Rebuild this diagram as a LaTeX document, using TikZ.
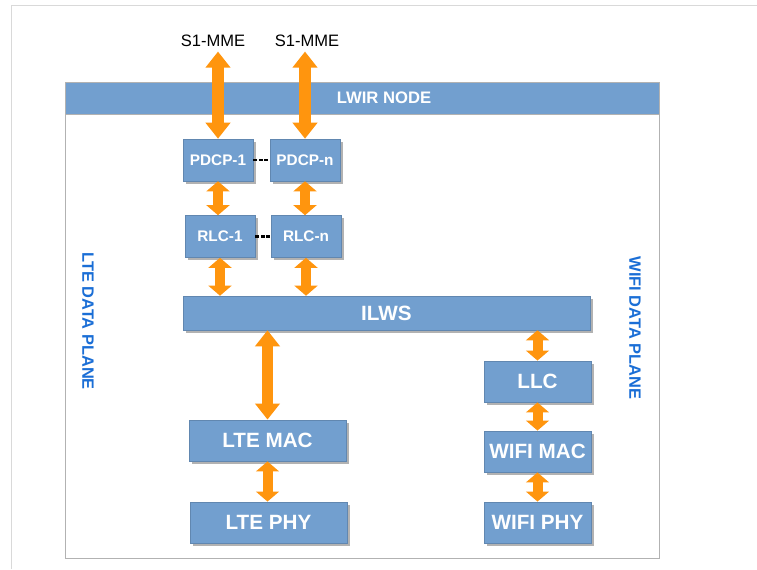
\documentclass[tikz,border=0pt]{standalone}
\usepackage{fontspec}
\setmainfont{Liberation Sans}
\usetikzlibrary{arrows.meta,shadows}
\definecolor{boxblue}{HTML}{729FCF}
\definecolor{arrorange}{HTML}{FF950E}
\definecolor{planeblue}{HTML}{1A6ED6}
\begin{document}
\begin{tikzpicture}[x=0.75pt,y=-0.75pt,
    layer/.style={draw=boxblue!85!black,fill=boxblue,text=white,inner sep=0pt,
      font=\bfseries\fontsize{15.5}{18}\selectfont,
      drop shadow={shadow xshift=2pt,shadow yshift=-2pt,fill=black!30,opacity=1}},
    small/.style={layer,minimum width=52.5pt,minimum height=31.5pt,
      font=\bfseries\fontsize{11.5}{14}\selectfont},
    ltebox/.style={layer,minimum width=118pt,minimum height=31pt},
    wifibox/.style={layer,minimum width=80pt,minimum height=31pt},
    dbl/.style={draw=arrorange,line width=8.5pt,
      {Triangle[width=18pt,length=12pt]}-{Triangle[width=18pt,length=12pt]}},
    sdbl/.style={draw=arrorange,line width=7.5pt,
      {Triangle[width=17pt,length=7.5pt]}-{Triangle[width=17pt,length=7.5pt]}},
    link/.style={line width=2pt,dash pattern=on 3pt off 1.2pt},
    plane/.style={text=planeblue,font=\bfseries\fontsize{12.3}{14}\selectfont,rotate=-90}]
    \useasboundingbox (0,0) rectangle (757,569);
    % page edge
    \draw[black!15] (11,569) -- (11,5) -- (757,5);

    % LWIR node frame and title band
    \draw[black!30,fill=white] (65,82) rectangle (659,558);
    \draw[black!30,fill=boxblue] (65,82) rectangle (659,114);
    \node[text=white,font=\bfseries\fontsize{12.5}{15}\selectfont] (lwir) at (384,98) {LWIR NODE};

    % side labels
    \node[plane] (lteplane) at (88,321) {LTE DATA PLANE};
    \node[plane] (wifiplane) at (635,328) {WIFI DATA PLANE};

    % S1 interfaces
    \node[font=\fontsize{12.4}{15}\selectfont] (s1a) at (213,41) {S1-MME};
    \node[font=\fontsize{12.4}{15}\selectfont] (s1b) at (307,41) {S1-MME};

    % PDCP and RLC entities
    \node[small] (pdcp1) at (218,160) {PDCP-1};
    \node[small] (pdcpn) at (305,160) {PDCP-n};
    \node[small] (rlc1) at (220,236.5) {RLC-1};
    \node[small] (rlcn) at (306,236.5) {RLC-n};

    % aggregation layer
    \node[layer,minimum width=305pt,minimum height=25.5pt] (ilws) at (386.5,313) {ILWS};

    % LTE lower layers
    \node[ltebox] (lmac) at (267.5,440.5) {LTE MAC};
    \node[ltebox] (lphy) at (268.5,522.5) {LTE PHY};

    % WIFI lower layers
    \node[wifibox] (llc) at (537.5,381.5) {LLC};
    \node[wifibox] (wmac) at (537.5,451.5) {WIFI MAC};
    \node[wifibox] (wphy) at (537.5,522.5) {WIFI PHY};

    % connectors
    \draw[dbl] (pdcp1.north) -- (pdcp1.north |- s1a.south);
    \draw[dbl] (pdcpn.north) -- (pdcpn.north |- s1b.south);
    \draw[link] (pdcp1.east) -- (pdcpn.west);
    \draw[link] (rlc1.east) -- (rlcn.west);
    \draw[sdbl] (pdcp1.south) -- (rlc1.north -| pdcp1.south);
    \draw[sdbl] (pdcpn.south) -- (rlcn.north -| pdcpn.south);
    \draw[sdbl] (rlc1.south) -- (rlc1.south |- ilws.north);
    \draw[sdbl] (rlcn.south) -- (rlcn.south |- ilws.north);
    \draw[dbl] (lmac.north |- ilws.south) -- (lmac.north);
    \draw[sdbl] (lmac.south) -- (lphy.north -| lmac.south);
    \draw[sdbl] (llc.north |- ilws.south) -- (llc.north);
    \draw[sdbl] (llc.south) -- (wmac.north);
    \draw[sdbl] (wmac.south) -- (wphy.north);
\end{tikzpicture}
\end{document}
